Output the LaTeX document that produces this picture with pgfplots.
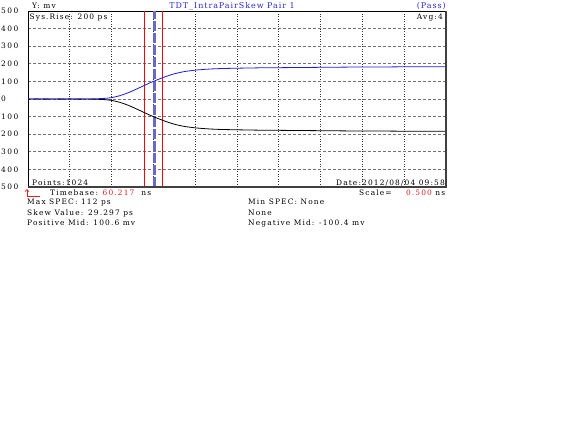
\documentclass[border=0pt]{standalone}
\usepackage{fontspec}
\setmainfont{DejaVu Serif}
\newfontfamily\bmfont[LetterSpace=15]{DejaVu Serif}
\newfontfamily\ttlfont[LetterSpace=12]{DejaVu Serif}
\newfontfamily\tkfont[LetterSpace=20]{DejaVu Serif}
\usepackage{pgfplots}
\pgfplotsset{compat=1.18}
\definecolor{cursorblue}{RGB}{105,105,195}
\definecolor{titleblue}{RGB}{40,40,220}
\definecolor{curveblue}{RGB}{30,30,225}
\definecolor{txtred}{RGB}{230,30,30}
\newcommand{\bt}{\bmfont\fontsize{7.5}{9}\selectfont}
\begin{document}
\begin{tikzpicture}[x=1bp,y=1bp]
\path[use as bounding box, fill=white] (0,0) rectangle (576,-432);
\begin{axis}[
  at={(28bp,-187bp)}, anchor=south west,
  scale only axis, width=418bp, height=176bp,
  xmin=0, xmax=10, ymin=-500, ymax=500,
  xtick={1,2,...,9}, xticklabels={},
  ytick={-500,-400,...,500},
  yticklabels={500,400,300,200,100,0,100,200,300,400,500},
  /pgf/number format/assume math mode=true,
  yticklabel style={anchor=west, xshift=-27.5bp, inner sep=0.5bp, font=\tkfont\fontsize{7.5}{9}\selectfont},
  major tick length=0pt,
  xmajorgrids, ymajorgrids,
  x grid style={black!80, dash pattern=on 1bp off 1.5bp, line width=0.7bp},
  y grid style={black!55, dash pattern=on 3bp off 2bp, line width=0.7bp},
  axis line style={black, line width=0.8bp},
]
\addplot[red, line width=0.9bp] coordinates {(2.78,-500) (2.78,500)};
\addplot[red, line width=0.9bp] coordinates {(3.21,-500) (3.21,500)};
\addplot[cursorblue, line width=3.2bp, dash pattern=on 10bp off 2bp] coordinates {(3.02,-500) (3.02,500)};
\addplot[black, line width=0.8bp] coordinates {
(0,-1)(0.2,1)(0.4,-1)(0.6,0)(0.8,-1)(1.0,1)(1.2,-1)(1.4,0)(1.6,-1)(1.8,-3)(1.9,-5)(2.0,-8)(2.1,-13)(2.2,-19)(2.3,-27)(2.4,-36)(2.5,-46)(2.6,-57)(2.7,-68)(2.8,-79)(2.9,-90)(3.0,-100)(3.1,-110)(3.2,-119)(3.3,-128)(3.4,-136)(3.5,-143)(3.6,-149)(3.7,-154)(3.8,-158)(3.9,-161)(4.0,-164)(4.2,-168)(4.4,-171)(4.6,-173)(4.8,-174)(5.0,-175)(5.5,-177)(6.0,-178)(6.5,-179)(7.0,-180)(7.5,-181)(8.0,-182)(8.5,-182)(9.0,-183)(9.5,-183)(10,-183)};
\addplot[curveblue, line width=0.8bp] coordinates {
(0,1)(0.2,-1)(0.4,1)(0.6,0)(0.8,1)(1.0,-1)(1.2,1)(1.4,0)(1.6,1)(1.8,3)(1.9,5)(2.0,8)(2.1,13)(2.2,19)(2.3,27)(2.4,36)(2.5,46)(2.6,57)(2.7,68)(2.8,79)(2.9,90)(3.0,100)(3.1,110)(3.2,119)(3.3,128)(3.4,136)(3.5,143)(3.6,149)(3.7,154)(3.8,158)(3.9,161)(4.0,164)(4.2,168)(4.4,171)(4.6,173)(4.8,174)(5.0,175)(5.5,177)(6.0,178)(6.5,179)(7.0,180)(7.5,181)(8.0,182)(8.5,182)(9.0,183)(9.5,183)(10,183)};
\end{axis}
% thick right/bottom frame
\draw[black!75, line width=1.8bp] (446,-11) -- (446,-187) -- (28,-187);
% header texts
\node[anchor=base west, inner sep=0] at (32,-8.5) {\bt Y: mv};
\node[anchor=base, inner sep=0, text=titleblue] at (232,-8.5) {\ttlfont\fontsize{8}{9}\selectfont TDT\_IntraPairSkew Pair 1};
\node[anchor=base east, inner sep=0, text=titleblue] at (446,-8.5) {\ttlfont\fontsize{8}{9}\selectfont (Pass)};
% inside texts
\node[anchor=base west, inner sep=0] at (29.5,-19.5) {\bt Sys.Rise: 200 ps};
\node[anchor=base east, inner sep=0] at (443,-19.5) {\bt Avg:4};
\node[anchor=base west, inner sep=0] at (32,-185) {\bt Points:1024};
\node[anchor=base east, inner sep=0] at (445,-185) {\bt Date:2012/08/04 09:58};
% below
\draw[txtred, line width=0.7bp] (27,-189.5) -- (27,-196) -- (40,-196);
\draw[txtred, line width=0.7bp] (25,-191.5) -- (27,-189.5) -- (29,-191.5);
\node[anchor=base west, inner sep=0] at (50,-195) {\bt Timebase: \textcolor{txtred}{60.217} \ ns};
\node[anchor=base west, inner sep=0] at (359,-195) {\bt Scale= \quad\ \textcolor{txtred}{0.500} ns};
\node[anchor=base west, inner sep=0] at (27,-204.5) {\bt Max SPEC: 112 ps};
\node[anchor=base west, inner sep=0] at (27,-215) {\bt Skew Value: 29.297 ps};
\node[anchor=base west, inner sep=0] at (27,-225) {\bt Positive Mid: 100.6 mv};
\node[anchor=base west, inner sep=0] at (248,-204.5) {\bt Min SPEC: None};
\node[anchor=base west, inner sep=0] at (248,-215) {\bt None};
\node[anchor=base west, inner sep=0] at (248,-225) {\bt Negative Mid: -100.4 mv};
\end{tikzpicture}
\end{document}
